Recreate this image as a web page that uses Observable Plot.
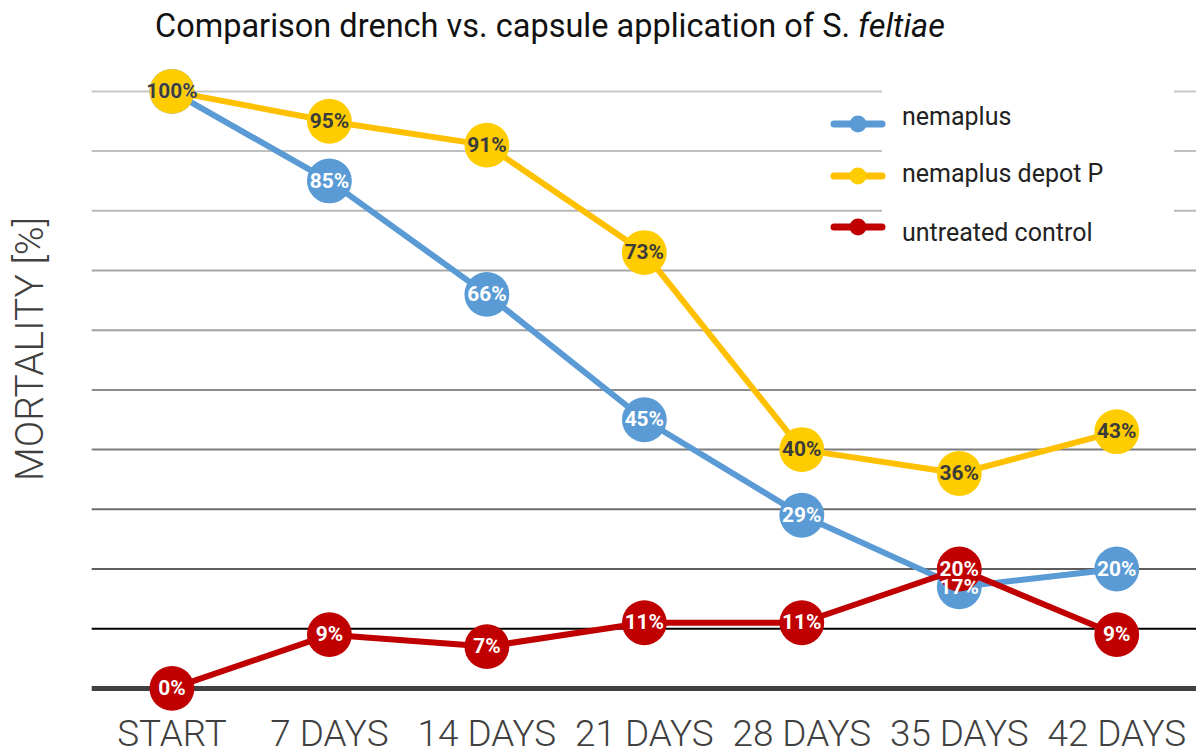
<!DOCTYPE html>
<html><head><meta charset="utf-8">
<script src="https://cdn.jsdelivr.net/npm/d3@7"></script>
<script src="https://cdn.jsdelivr.net/npm/@observablehq/plot@0.6"></script>
<style>
html,body{margin:0;padding:0;background:#fff;overflow:hidden;}
#wrap{position:relative;width:1196px;height:754px;overflow:hidden;font-family:Roboto,sans-serif;}
#title{position:absolute;left:155px;top:10px;font-size:32.5px;line-height:32px;color:#111;white-space:nowrap;}
#chart{position:absolute;left:0;top:60px;}
#ylabel{position:absolute;left:30px;top:349px;transform:translate(-50%,-50%) rotate(-90deg);font-size:39px;font-weight:300;color:#404040;white-space:nowrap;}
#legbox{position:absolute;left:882px;top:85px;width:292px;height:183px;background:#fff;}
.sw{position:absolute;left:829px;}
.lt{position:absolute;left:902px;line-height:30px;font-size:25px;color:#222;white-space:nowrap;}
</style></head>
<body>
<div id="wrap">
  <div id="title"></div>
  <div id="chart"></div>
  <div id="ylabel"></div>
  <div id="legbox"></div>
  <div id="legend"></div>
</div>
<script>
const titleText = "Comparison drench vs. capsule application of ";
const titleSpecies = ["S.", "feltiae"];
const yLabel = "MORTALITY [%]";
const days = ["START", "7 DAYS", "14 DAYS", "21 DAYS", "28 DAYS", "35 DAYS", "42 DAYS"];
const seriesNames = ["nemaplus", "nemaplus depot P", "untreated control"];
const nemaplus = [100, 85, 66, 45, 29, 17, 20];
const depotP = [100, 95, 91, 73, 40, 36, 43];
const control = [0, 9, 7, 11, 11, 20, 9];
const gridValues = [10, 20, 30, 40, 50, 60, 70, 80, 90, 100];

// styles
const lineColors = ["#5B9BD5", "#FFC000", "#C00000"];
const dotColors = ["#5B9BD5", "#FFCC00", "#C00000"];
const labelColors = ["#ffffff", "#3b3b3b", "#ffffff"];
const gridColors = ["#000000", "#5e5e5e", "#6c6c6c", "#7c7c7c", "#8c8c8c", "#a0a0a0", "#a8a8a8", "#b8b8b8", "#c0c0c0", "#c8c8c8"];

document.getElementById("title").innerHTML = titleText + titleSpecies[0] + " <i>" + titleSpecies[1] + "</i>";
document.getElementById("ylabel").textContent = yLabel;

const seriesValues = [nemaplus, depotP, control];
const series = seriesValues.map((vals, s) => days.map((d, i) => ({day: d, v: vals[i], s})));

const marks = [
  Plot.ruleY(gridValues, {y: d => d, stroke: (d, i) => gridColors[i], strokeWidth: 2}),
  Plot.ruleY([0], {stroke: "#404040", strokeWidth: 5}),
  Plot.axisX({tickSize: 0, tickPadding: 32, fontSize: 37, fontWeight: 300, fill: "#404040", label: null})
];
series.forEach((rows, s) => {
  marks.push(Plot.lineY(rows, {x: "day", y: "v", stroke: lineColors[s], strokeWidth: 6, strokeLinejoin: "round"}));
  marks.push(Plot.dot(rows, {x: "day", y: "v", r: 22.5, fill: dotColors[s], stroke: null}));
});
series.forEach((rows, s) => {
  marks.push(Plot.text(rows, {x: "day", y: "v", text: d => d.v + "%", fill: labelColors[s], fontSize: 21, fontWeight: "bold"}));
});

const chart = Plot.plot({
  width: 1200, height: 694,
  marginLeft: 92, marginRight: 0, marginTop: 31, marginBottom: 64,
  style: {fontFamily: "Roboto", background: "transparent", color: "#404040", overflow: "visible"},
  x: {type: "point", domain: days, padding: 0.5, axis: null},
  y: {domain: [0, 100], axis: null},
  color: {type: "identity"},
  marks
});
document.getElementById("chart").appendChild(chart);

// legend
const legend = document.getElementById("legend");
const swatchCenters = [124, 176, 227];
const textCenters = [117, 174, 233];
seriesNames.forEach((name, s) => {
  const sw = document.createElement("div");
  sw.className = "sw";
  sw.style.top = (swatchCenters[s] - 15) + "px";
  sw.innerHTML = `<svg width="60" height="30"><line x1="5" y1="15" x2="53" y2="15" stroke="${lineColors[s]}" stroke-width="7" stroke-linecap="round"/><circle cx="29" cy="15" r="8.5" fill="${dotColors[s]}"/></svg>`;
  legend.appendChild(sw);
  const t = document.createElement("div");
  t.className = "lt";
  t.style.top = (textCenters[s] - 15) + "px";
  t.textContent = name;
  legend.appendChild(t);
});
</script>
</body></html>
